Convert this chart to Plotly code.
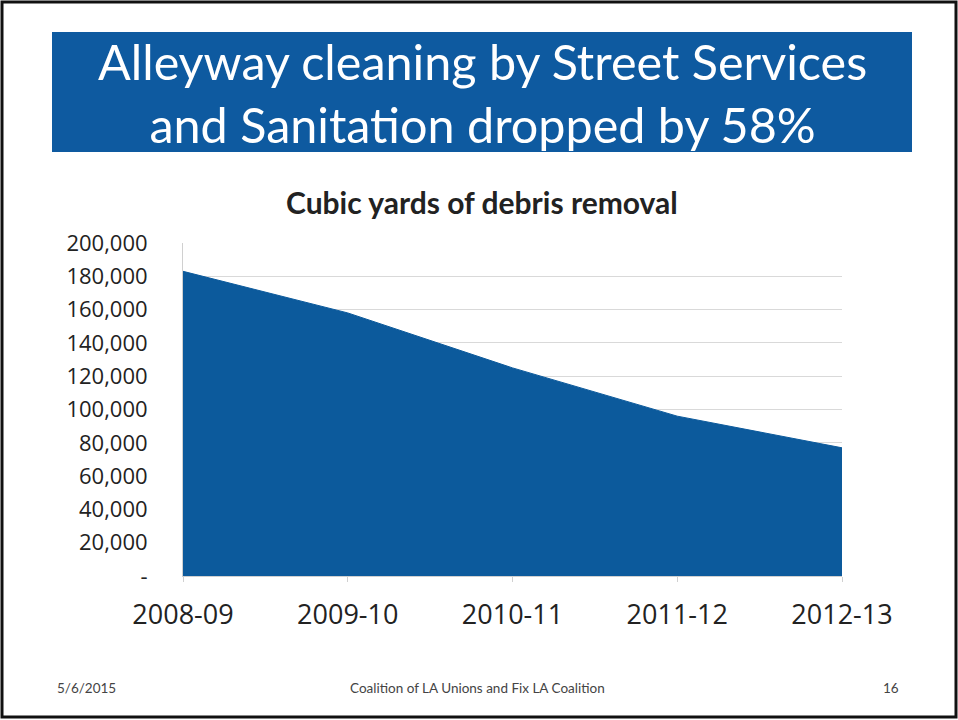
import plotly.graph_objects as go

categories = ["2008-09", "2009-10", "2010-11", "2011-12", "2012-13"]
cubic_yards = [183000, 158000, 125000, 96000, 77000]
y_tick_values = [0, 20000, 40000, 60000, 80000, 100000, 120000, 140000, 160000, 180000, 200000]
y_tick_labels = ["-", "20,000", "40,000", "60,000", "80,000", "100,000", "120,000",
                 "140,000", "160,000", "180,000", "200,000"]

W, H = 958, 720
L, R, T, B = 183, 116, 243, 144
FONT = "Lato, 'Open Sans', sans-serif"
NUMFONT = "'Open Sans', Lato, sans-serif"
BLUE = "#0C5A9C"

fig = go.Figure()
fig.add_trace(go.Scatter(
    x=categories, y=cubic_yards, mode="lines", fill="tozeroy",
    line=dict(color=BLUE, width=1), fillcolor=BLUE, hoverinfo="x+y",
))

fig.update_layout(
    width=W, height=H,
    margin=dict(l=L, r=R, t=T, b=B),
    paper_bgcolor="white", plot_bgcolor="white",
    showlegend=False,
    font=dict(family=FONT, color="#222222"),
    xaxis=dict(
        type="category", range=[0, len(categories) - 1],
        showgrid=False, showline=True, linecolor="#d0d0d0", linewidth=1,
        ticks="outside", ticklen=5, tickcolor="#d0d0d0",
        tickfont=dict(size=27, color="#222222", family=NUMFONT),
        ticklabelstandoff=10,
    ),
    yaxis=dict(
        range=[0, 200000], tickvals=y_tick_values, ticktext=y_tick_labels,
        showgrid=True, gridcolor="#d9d9d9", gridwidth=1,
        showline=True, linecolor="#d0d0d0", zeroline=False,
        tickfont=dict(size=22, color="#222222", family=NUMFONT),
        ticklabelstandoff=30,
    ),
)

def px_x(px):
    return (px - L) / (W - L - R)

def px_y(py):
    return (H - B - py) / (H - T - B)

# slide border
fig.add_shape(type="rect", xref="paper", yref="paper",
              x0=px_x(2), x1=px_x(956), y0=px_y(717), y1=px_y(2),
              line=dict(color="#111111", width=3), fillcolor="rgba(0,0,0,0)", layer="above")

# title banner
fig.add_shape(type="rect", xref="paper", yref="paper",
              x0=px_x(52), x1=px_x(912), y0=px_y(152), y1=px_y(32),
              line=dict(width=0), fillcolor="#0E5AA0", layer="below")
fig.add_annotation(xref="paper", yref="paper", x=px_x(482), y=px_y(93),
                   text="Alleyway cleaning by Street Services<br>and Sanitation dropped by 58%",
                   showarrow=False, font=dict(size=48.5, color="white", family=FONT),
                   align="center", xanchor="center", yanchor="middle")

# chart title
fig.add_annotation(xref="paper", yref="paper", x=px_x(482), y=px_y(202),
                   text="<b>Cubic yards of debris removal</b>", showarrow=False,
                   font=dict(size=30, color="#222222", family=FONT),
                   xanchor="center", yanchor="middle")

# footer
footer_font = dict(size=13.5, color="#444444", family=FONT)
fig.add_annotation(xref="paper", yref="paper", x=px_x(55), y=px_y(688), text="5/6/2015",
                   showarrow=False, font=footer_font, xanchor="left", yanchor="middle")
fig.add_annotation(xref="paper", yref="paper", x=px_x(477), y=px_y(688),
                   text="Coalition of LA Unions and Fix LA Coalition",
                   showarrow=False, font=footer_font, xanchor="center", yanchor="middle")
fig.add_annotation(xref="paper", yref="paper", x=px_x(901), y=px_y(688), text="16",
                   showarrow=False, font=footer_font, xanchor="right", yanchor="middle")

fig.write_html("out.html", config={"displayModeBar": False},
               post_script="document.body.style.margin='0';document.body.style.overflow='hidden';")
